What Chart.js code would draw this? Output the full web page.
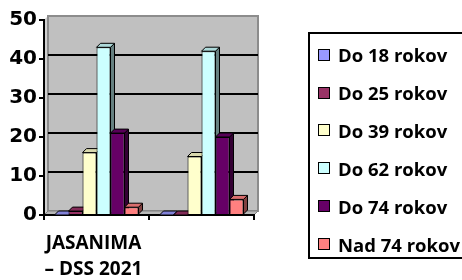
<!DOCTYPE html>
<html>
<head>
<meta charset="utf-8">
<script src="https://cdn.jsdelivr.net/npm/chart.js@4.4.1/dist/chart.umd.min.js"></script>
<style>
  html, body { margin: 0; padding: 0; background: #fff; overflow: hidden; }
  #wrap { position: relative; width: 462px; height: 280px; }
  #legend {
    position: absolute; left: 308px; top: 32px; width: 160px; height: 227px;
    border: 2px solid #000; box-sizing: border-box; padding-top: 1.7px;
    font-family: "Open Sans"; font-weight: 700; font-size: 18.5px; color: #000;
  }
  #legend .item { height: 37.9px; display: flex; align-items: center; white-space: nowrap; }
  #legend .sw { width: 12px; height: 12px; box-sizing: border-box; border: 1px solid #000; margin: 0 8px 0 8px; }
</style>
</head>
<body>
<div id="wrap">
  <canvas id="chart" width="462" height="280"></canvas>
  <div id="legend"></div>
</div>
<script>
const categories = [["JASANIMA", "– DSS 2021"], ""];
const seriesNames = ["Do 18 rokov", "Do 25 rokov", "Do 39 rokov", "Do 62 rokov", "Do 74 rokov", "Nad 74 rokov"];
const do18 = [0, 0];
const do25 = [1, 0];
const do39 = [16, 15];
const do62 = [43, 42];
const do74 = [21, 20];
const nad74 = [2, 4];
const yTicks = [0, 10, 20, 30, 40, 50];
const colors = ["#9999ff", "#993366", "#ffffcc", "#ccffff", "#660066", "#ff8080"];

const seriesValues = [do18, do25, do39, do62, do74, nad74];

// depth of the 3d look
const DX = 4, DY = -4;

function shade(hex, f) {
  const n = parseInt(hex.slice(1), 16);
  const r = Math.round(((n >> 16) & 255) * f);
  const g = Math.round(((n >> 8) & 255) * f);
  const b = Math.round((n & 255) * f);
  return "rgb(" + r + "," + g + "," + b + ")";
}

function poly(ctx, pts) {
  ctx.beginPath();
  ctx.moveTo(pts[0][0], pts[0][1]);
  for (let i = 1; i < pts.length; i++) ctx.lineTo(pts[i][0], pts[i][1]);
  ctx.closePath();
}

const box3d = {
  id: "box3d",
  beforeDraw(chart) {
    const { ctx, chartArea: a, scales } = chart;
    const y = scales.y;
    ctx.save();
    // side wall
    ctx.fillStyle = "#d0d0d0";
    poly(ctx, [[a.left, a.top], [a.left + DX, a.top + DY], [a.left + DX, a.bottom + DY], [a.left, a.bottom]]);
    ctx.fill();
    // back wall
    ctx.fillStyle = "#c0c0c0";
    ctx.fillRect(a.left + DX, a.top + DY, a.width, a.height);
    ctx.strokeStyle = "#8c8c8c";
    ctx.lineWidth = 2;
    ctx.strokeRect(a.left + DX, a.top + DY, a.width, a.height);
    // floor
    ctx.fillStyle = "#b8b8b8";
    poly(ctx, [[a.left, a.bottom], [a.right, a.bottom], [a.right + DX, a.bottom + DY], [a.left + DX, a.bottom + DY]]);
    ctx.fill();
    ctx.strokeStyle = "#808080";
    ctx.lineWidth = 1;
    ctx.stroke();
    // gridlines on the back wall
    ctx.strokeStyle = "#000";
    ctx.lineWidth = 2;
    y.ticks.forEach(t => {
      if (t.value <= y.min || t.value >= y.max) return;
      const py = Math.round(y.getPixelForValue(t.value) + DY);
      ctx.beginPath();
      ctx.moveTo(a.left + DX, py);
      ctx.lineTo(a.right + DX, py);
      ctx.stroke();
    });
    ctx.restore();
  },
  beforeDatasetsDraw(chart) {
    const ctx = chart.ctx;
    ctx.save();
    ctx.lineWidth = 1;
    ctx.strokeStyle = "#000";
    for (let j = 0; j < chart.data.labels.length; j++) {
      chart.data.datasets.forEach((ds, i) => {
        const bar = chart.getDatasetMeta(i).data[j];
        const p = bar.getProps(["x", "y", "base", "width"], true);
        const x1 = p.x - p.width / 2, x2 = p.x + p.width / 2;
        ctx.fillStyle = shade(ds.backgroundColor, 0.5);
        poly(ctx, [[x2, p.y], [x2 + DX, p.y + DY], [x2 + DX, p.base + DY], [x2, p.base]]);
        ctx.fill();
        ctx.stroke();
        ctx.fillStyle = shade(ds.backgroundColor, 0.85);
        poly(ctx, [[x1, p.y], [x2, p.y], [x2 + DX, p.y + DY], [x1 + DX, p.y + DY]]);
        ctx.fill();
        ctx.stroke();
      });
    }
    ctx.restore();
  }
};

const legend = document.getElementById("legend");
seriesNames.forEach((name, i) => {
  legend.insertAdjacentHTML("beforeend",
    `<div class="item"><span class="sw" style="background:${colors[i]}"></span>${name}</div>`);
});

const ctx = document.getElementById("chart").getContext("2d");

new Chart(ctx, {
  type: "bar",
  data: {
    labels: categories,
    datasets: seriesNames.map((name, i) => ({
      label: name,
      data: seriesValues[i],
      backgroundColor: colors[i],
      borderColor: "#000",
      borderWidth: 1,
      categoryPercentage: 0.8,
      barPercentage: 1.0
    }))
  },
  options: {
    responsive: false,
    animation: false,
    events: [],
    layout: { padding: { top: 20, right: 208, bottom: 0, left: 0 } },
    plugins: {
      legend: { display: false },
      tooltip: { enabled: false }
    },
    scales: {
      x: {
        grid: { drawOnChartArea: false, tickLength: 5, color: "#000", lineWidth: 2 },
        border: { color: "#000", width: 2 },
        ticks: {
          color: "#000",
          padding: 11,
          labelOffset: -3,
          maxRotation: 0,
          autoSkip: false,
          font: { family: "Open Sans", weight: "bold", size: 19, lineHeight: 26 / 19 }
        },
        afterFit(s) { s.height = 65; }
      },
      y: {
        min: yTicks[0],
        max: yTicks[yTicks.length - 1],
        grid: { drawOnChartArea: false, tickLength: 5, color: "#000", lineWidth: 2 },
        border: { color: "#000", width: 2 },
        ticks: {
          stepSize: yTicks[1] - yTicks[0],
          color: "#000",
          padding: 2,
          font: { family: "DejaVu Sans", weight: "bold", size: 20 }
        },
        afterFit(s) { s.width = 44; }
      }
    }
  },
  plugins: [box3d]
});
</script>
</body>
</html>
